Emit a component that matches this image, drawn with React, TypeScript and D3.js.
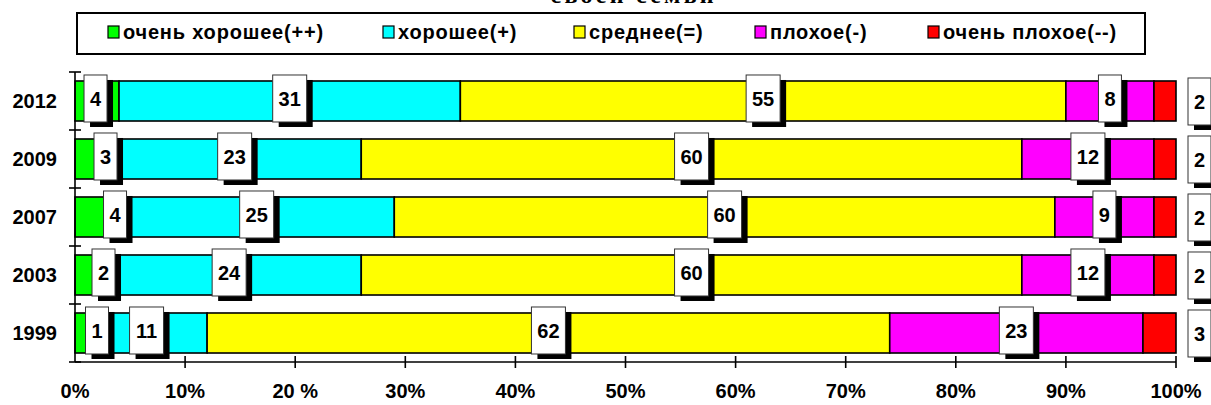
import React from "react";
import * as d3 from "d3";

// ---------- data ----------
const years = ["2012", "2009", "2007", "2003", "1999"];
const seriesNames = ["очень хорошее(++)", "хорошее(+)", "среднее(=)", "плохое(-)", "очень плохое(--)"];
const veryGood = [4, 3, 4, 2, 1];
const good = [31, 23, 25, 24, 11];
const average = [55, 60, 60, 60, 62];
const bad = [8, 12, 9, 12, 23];
const veryBad = [2, 2, 2, 2, 3];
const xTickValues = [0, 10, 20, 30, 40, 50, 60, 70, 80, 90, 100];
const xTickLabels = ["0%", "10%", "20 %", "30%", "40%", "50%", "60%", "70%", "80%", "90%", "100%"];
const titleText = "своей семьи";

// ---------- layout / style ----------
const W = 1211;
const H = 405;
const colors = ["#00FF00", "#00FFFF", "#FFFF00", "#FF00FF", "#FF0000"];
const keys = ["vg", "g", "a", "b", "vb"];
const FONT = "'Liberation Sans', Arial, sans-serif";
const firstLabelNudge = [-1.5, 14, 18, 17.5, 16.5];
const legendKeyX = [108, 383, 574, 755, 928];

export default function App() {
  const rows = years.map((year, i) => ({
    year,
    vg: veryGood[i],
    g: good[i],
    a: average[i],
    b: bad[i],
    vb: veryBad[i],
  }));
  const stacked = d3.stack<any>().keys(keys)(rows as any);

  const x = d3.scaleLinear().domain([0, 100]).range([75, 1176]);
  const y = d3
    .scaleBand<string>()
    .domain(years)
    .range([72, 362])
    .paddingInner(0.31)
    .paddingOuter(0.155);
  const bw = y.bandwidth();
  const step = y.step();
  const bandEdges = d3.range(years.length + 1).map((i) => 72 + i * step);

  const labels: { x: number; top: number; text: string }[] = [];
  stacked.forEach((series, si) => {
    series.forEach((d: any, ri) => {
      const val = d[1] - d[0];
      const text = String(val);
      const wBox = text.length * 11 + 12;
      const yTop = y(years[ri])!;
      if (si === keys.length - 1) {
        labels.push({ x: x(100) + 12, top: yTop - 3, text });
      } else {
        let cx = x((d[0] + d[1]) / 2);
        if (si === 0) cx += firstLabelNudge[ri];
        labels.push({ x: cx - wBox / 2, top: yTop - 6, text });
      }
    });
  });

  return (
    <svg
      width={W}
      height={H}
      style={{ position: "absolute", left: 0, top: 0, background: "#fff" }}
      fontFamily={FONT}
    >
      {/* title (cut off at the top, as in the reference) */}
      <text
        x={632}
        y={3}
        textAnchor="middle"
        fontFamily="'Liberation Serif', 'Times New Roman', serif"
        fontWeight="bold"
        fontSize={24}
        textLength={163}
        lengthAdjust="spacing"
      >
        {titleText}
      </text>

      {/* legend */}
      <rect x={77} y={13} width={1068} height={41} fill="#fff" stroke="#000" strokeWidth={2} />
      {seriesNames.map((name, i) => (
        <g key={name}>
          <rect
            x={legendKeyX[i]}
            y={26}
            width={11}
            height={12}
            fill={colors[i]}
            stroke="#000"
            strokeWidth={1.2}
          />
          <text
            x={legendKeyX[i] + 15}
            y={38.5}
            fontSize={20}
            fontWeight="bold"
            letterSpacing={0.8}
          >
            {name}
          </text>
        </g>
      ))}

      {/* bars */}
      {stacked.map((series, si) => (
        <g key={keys[si]} fill={colors[si]} stroke="#000" strokeWidth={1.6}>
          {series.map((d: any, ri) => (
            <rect
              key={ri}
              x={x(d[0])}
              y={y(years[ri])}
              width={x(d[1]) - x(d[0])}
              height={bw}
            />
          ))}
        </g>
      ))}

      {/* axes */}
      <line x1={75} x2={75} y1={72} y2={362} stroke="#000" strokeWidth={1.6} />
      {bandEdges.map((v, i) => (
        <line key={i} x1={69} x2={81} y1={v} y2={v} stroke="#000" strokeWidth={1.6} />
      ))}
      <line x1={75} x2={1176} y1={362} y2={362} stroke="#000" strokeWidth={1.6} />
      {xTickValues.map((v, i) => (
        <g key={v}>
          {i > 0 && (
            <line x1={x(v)} x2={x(v)} y1={356} y2={368} stroke="#000" strokeWidth={1.6} />
          )}
          <text
            x={x(v)}
            y={398}
            textAnchor="middle"
            fontSize={20}
            fontWeight="bold"
          >
            {xTickLabels[i]}
          </text>
        </g>
      ))}

      {/* year labels */}
      {years.map((yr) => (
        <text
          key={yr}
          x={57}
          y={y(yr)! + bw / 2}
          dy="0.36em"
          textAnchor="end"
          fontSize={20}
          fontWeight="bold"
        >
          {yr}
        </text>
      ))}

      {/* data labels */}
      {labels.map((l, i) => {
        const wBox = l.text.length * 11 + 12;
        const hBox = 47;
        return (
          <g key={i}>
            <rect x={l.x + 6} y={l.top + 5} width={wBox} height={hBox} fill="#000" />
            <rect
              x={l.x}
              y={l.top}
              width={wBox}
              height={hBox}
              fill="#fff"
              stroke="#333"
              strokeWidth={1}
            />
            <text
              x={l.x + wBox / 2}
              y={l.top + hBox / 2}
              dy="0.36em"
              textAnchor="middle"
              fontSize={20}
              fontWeight="bold"
            >
              {l.text}
            </text>
          </g>
        );
      })}
    </svg>
  );
}
